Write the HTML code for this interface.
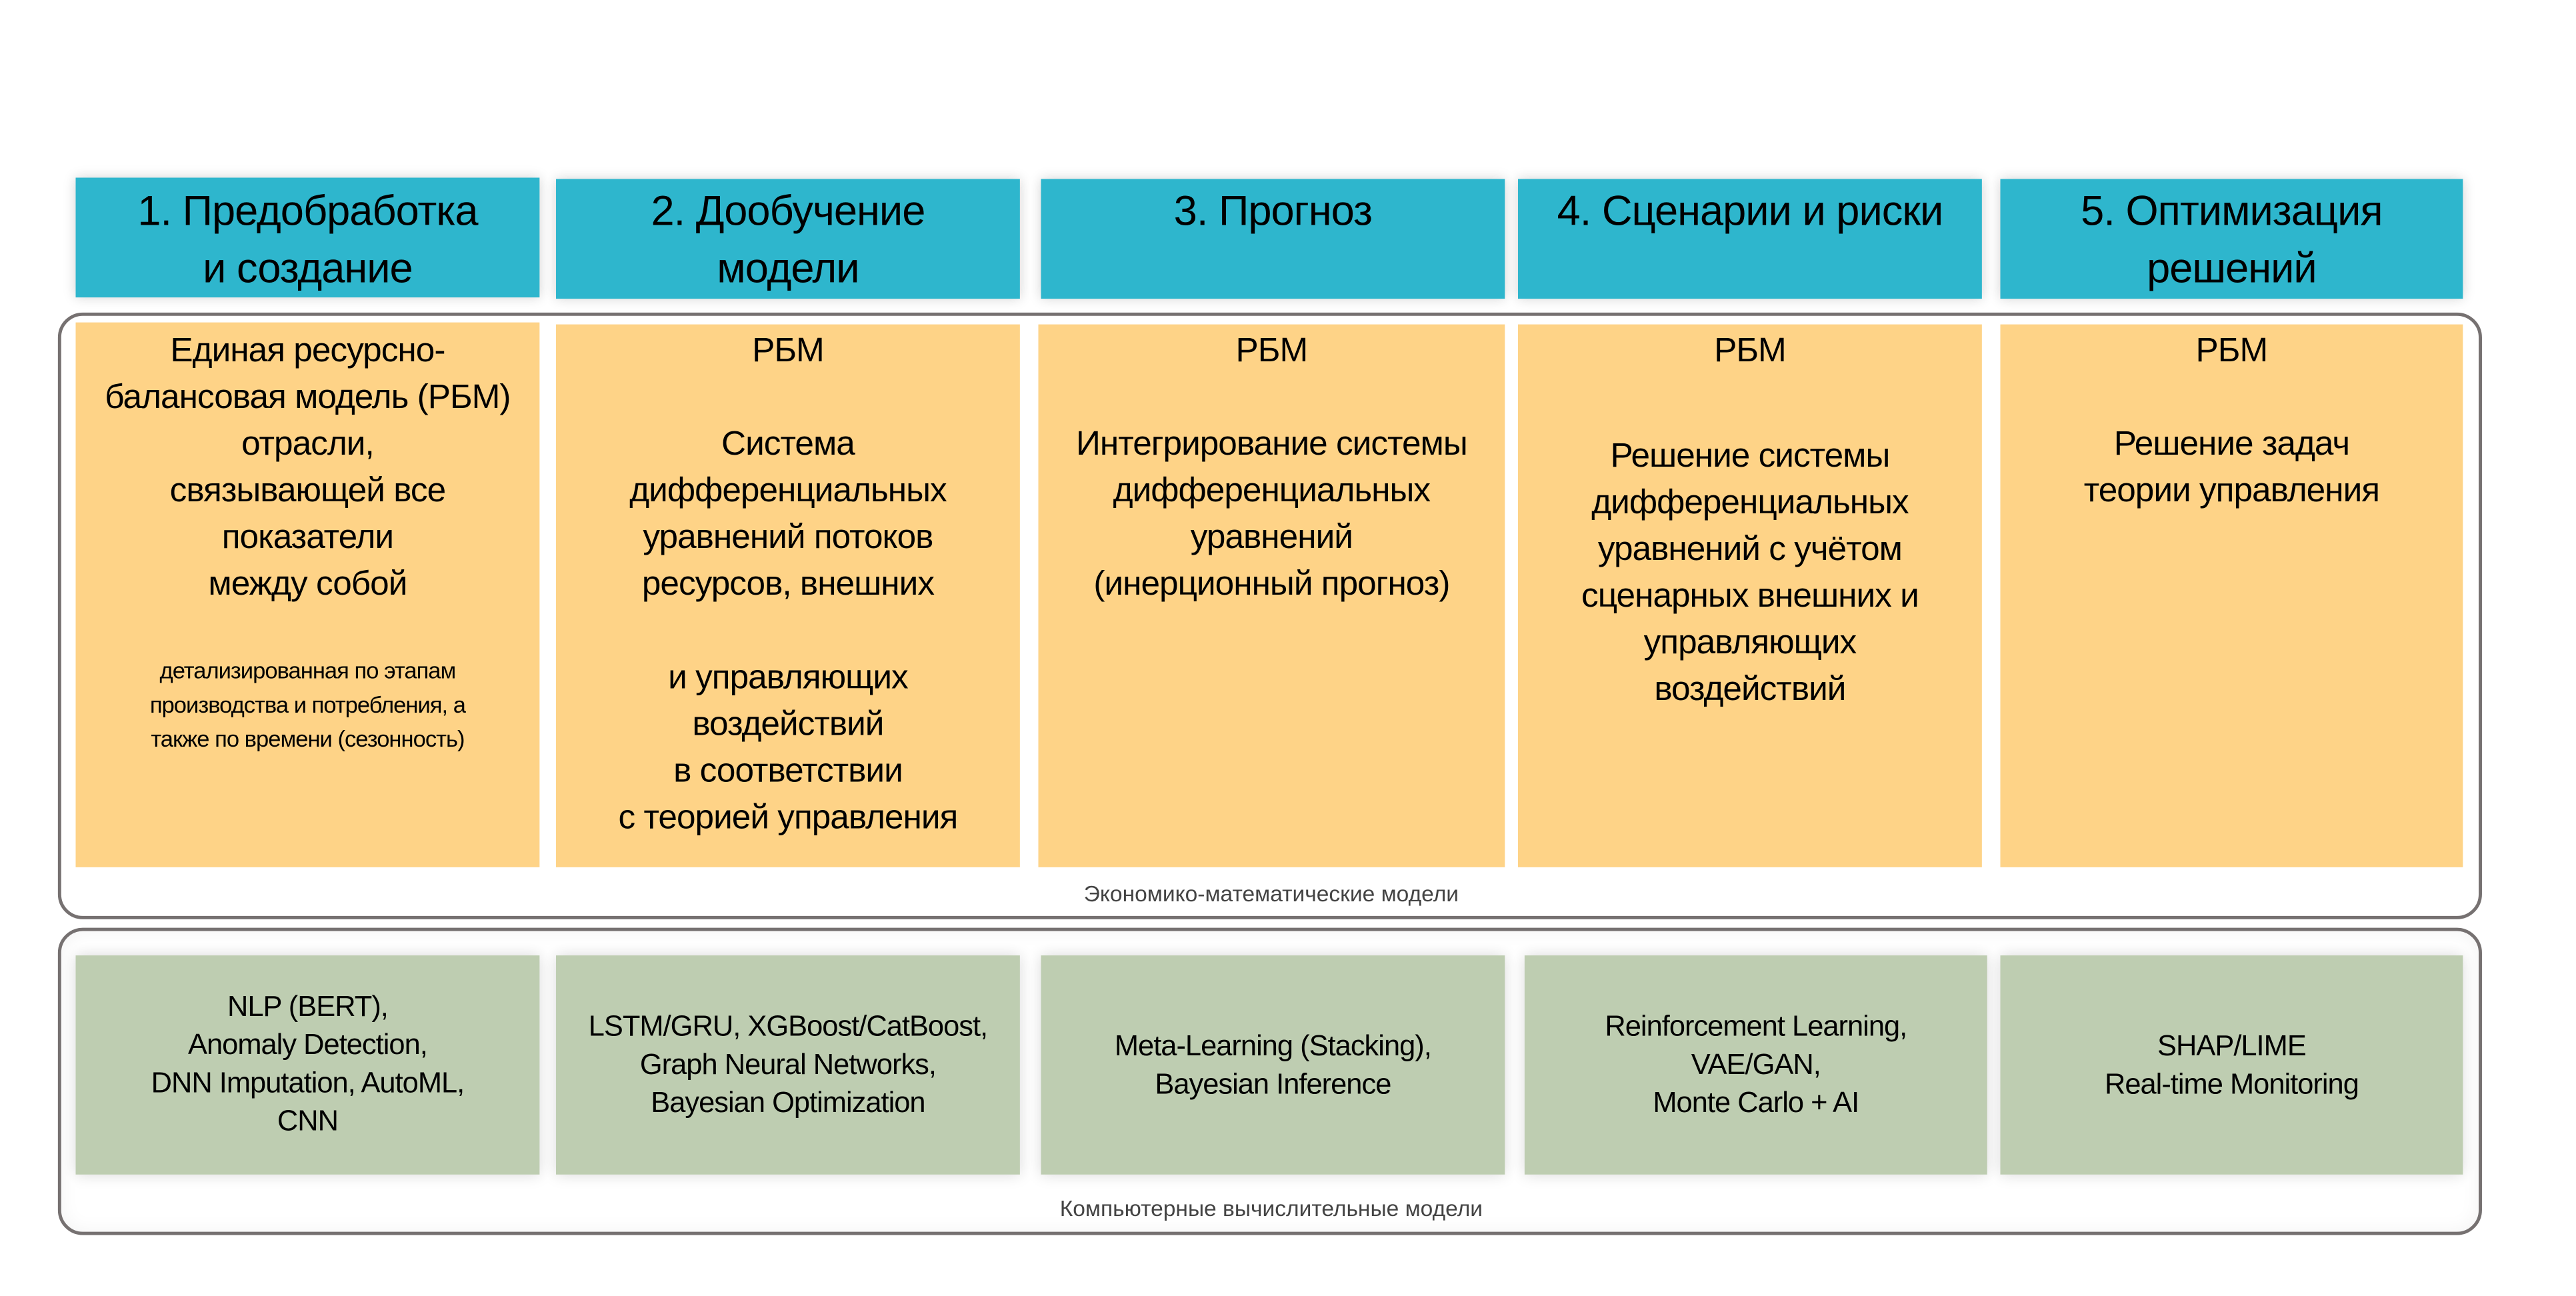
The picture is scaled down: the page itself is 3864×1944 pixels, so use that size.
<!DOCTYPE html>
<html><head><meta charset="utf-8">
<style>
body{margin:0;width:3864px;height:1944px;background:#fff;position:relative;overflow:hidden;font-family:"Liberation Sans","Noto Sans CJK SC",sans-serif;color:#000}
#w{position:absolute;left:0;top:0;width:3864px;height:1944px;transform:scale(0.987);transform-origin:0 0}
.a{position:absolute}
.h{background:#2eb6cd;box-shadow:0 0 18px rgba(0,0,0,.18)}
.o{background:#fed387}
.g{background:#becdb1;box-shadow:0 0 22px rgba(0,0,0,.15)}
.fr{border:5px solid #767171;border-radius:38px;box-sizing:border-box}
.t{position:absolute;text-align:center;white-space:nowrap;letter-spacing:-1px}
.ht{font-size:64px;line-height:87px}
.ot{font-size:52px;line-height:71px}
.st{font-size:35px;line-height:52px}
.gt{font-size:44px;line-height:58px}
.lb{position:absolute;font-size:34px;color:#444;text-align:center;width:3864px;left:0}
</style></head><body><div id="w">
<div class="a fr" style="left:88px;top:475px;width:3684px;height:922px"></div>
<div class="a fr" style="left:88px;top:1410px;width:3684px;height:467px;box-shadow:inset 0 0 30px rgba(0,0,0,.05)"></div>

<div class="a h" style="left:115px;top:270px;width:705px;height:182px"></div>
<div class="a h" style="left:845px;top:272px;width:705px;height:182px"></div>
<div class="a h" style="left:1582px;top:272px;width:705px;height:182px"></div>
<div class="a h" style="left:2307px;top:272px;width:705px;height:182px"></div>
<div class="a h" style="left:3040px;top:272px;width:703px;height:182px"></div>

<div class="t ht" style="left:115px;width:705px;top:277px">1. Предобработка<br>и создание</div>
<div class="t ht" style="left:845px;width:705px;top:277px">2. Дообучение<br>модели</div>
<div class="t ht" style="left:1582px;width:705px;top:277px">3. Прогноз</div>
<div class="t ht" style="left:2307px;width:705px;top:277px">4. Сценарии и риски</div>
<div class="t ht" style="left:3040px;width:703px;top:277px">5. Оптимизация<br>решений</div>

<div class="a o" style="left:115px;top:490px;width:705px;height:828px"></div>
<div class="a o" style="left:845px;top:493px;width:705px;height:825px"></div>
<div class="a o" style="left:1578px;top:493px;width:709px;height:825px"></div>
<div class="a o" style="left:2307px;top:493px;width:705px;height:825px"></div>
<div class="a o" style="left:3040px;top:493px;width:703px;height:825px"></div>

<div class="t ot" style="left:115px;width:705px;top:497px">Единая ресурсно-<br>балансовая модель (РБМ)<br>отрасли,<br>связывающей все<br>показатели<br>между собой</div>
<div class="t st" style="left:115px;width:705px;top:994px">детализированная по этапам<br>производства и потребления, а<br>также по времени (сезонность)</div>
<div class="t ot" style="left:845px;width:705px;top:497px">РБМ<br><br>Система<br>дифференциальных<br>уравнений потоков<br>ресурсов, внешних<br><br>и управляющих<br>воздействий<br>в соответствии<br>с теорией управления</div>
<div class="t ot" style="left:1578px;width:709px;top:497px">РБМ<br><br>Интегрирование системы<br>дифференциальных<br>уравнений<br>(инерционный прогноз)</div>
<div class="t ot" style="left:2307px;width:705px;top:497px">РБМ</div>
<div class="t ot" style="left:2307px;width:705px;top:657px">Решение системы<br>дифференциальных<br>уравнений с учётом<br>сценарных внешних и<br>управляющих<br>воздействий</div>
<div class="t ot" style="left:3040px;width:703px;top:497px">РБМ<br><br>Решение задач<br>теории управления</div>

<div class="lb" style="top:1340px">Экономико-математические модели</div>

<div class="a g" style="left:115px;top:1452px;width:705px;height:333px"></div>
<div class="a g" style="left:845px;top:1452px;width:705px;height:333px"></div>
<div class="a g" style="left:1582px;top:1452px;width:705px;height:333px"></div>
<div class="a g" style="left:2317px;top:1452px;width:703px;height:333px"></div>
<div class="a g" style="left:3040px;top:1452px;width:703px;height:333px"></div>

<div class="t gt" style="left:115px;width:705px;top:1501px">NLP (BERT),<br>Anomaly Detection,<br>DNN Imputation, AutoML,<br>CNN</div>
<div class="t gt" style="left:845px;width:705px;top:1531px">LSTM/GRU, XGBoost/CatBoost,<br>Graph Neural Networks,<br>Bayesian Optimization</div>
<div class="t gt" style="left:1582px;width:705px;top:1561px">Meta-Learning (Stacking),<br>Bayesian Inference</div>
<div class="t gt" style="left:2317px;width:703px;top:1531px">Reinforcement Learning,<br>VAE/GAN,<br>Monte Carlo + AI</div>
<div class="t gt" style="left:3040px;width:703px;top:1561px">SHAP/LIME<br>Real-time Monitoring</div>

<div class="lb" style="top:1818px">Компьютерные вычислительные модели</div>
</div></body></html>
